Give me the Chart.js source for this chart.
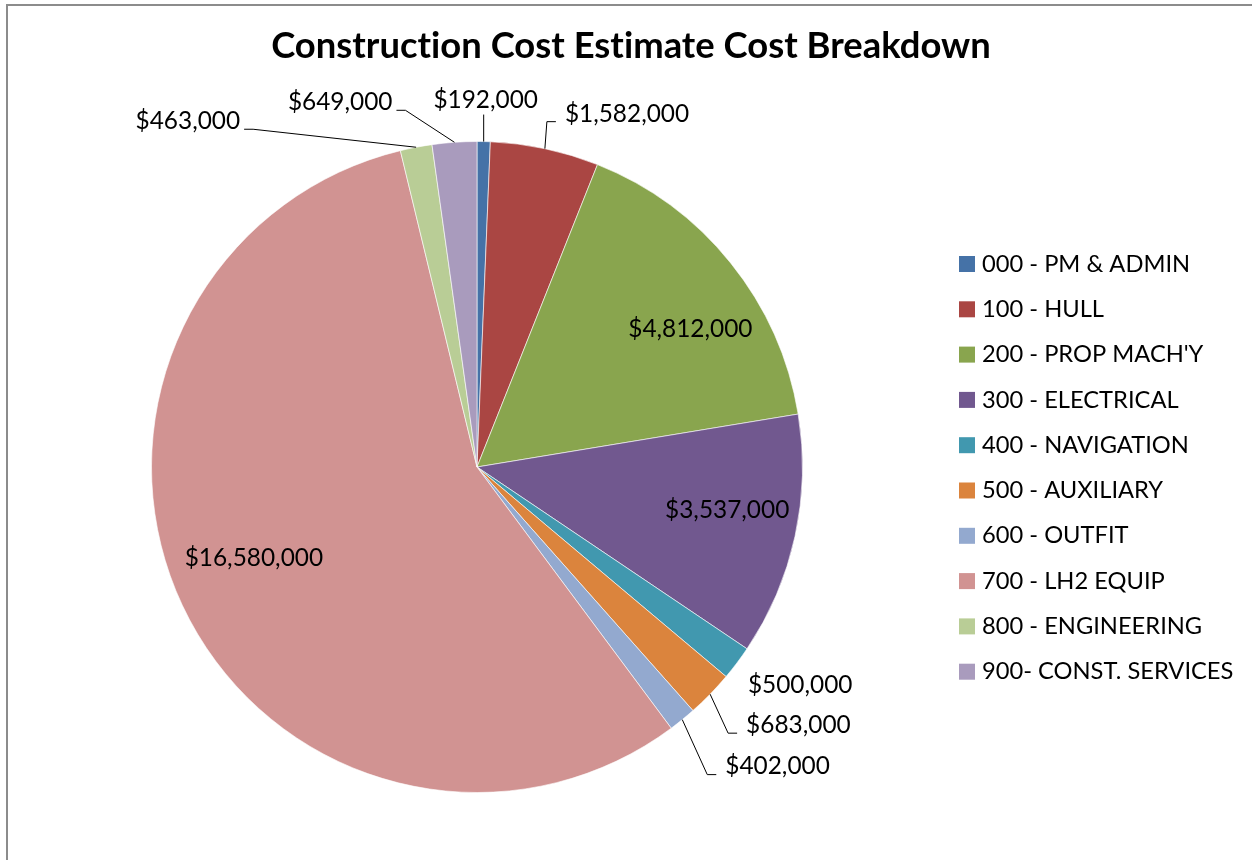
<!DOCTYPE html>
<html>
<head>
<meta charset="utf-8">
<script src="https://cdn.jsdelivr.net/npm/chart.js@4"></script>
<style>
  body { margin: 0; background: #fff; overflow: hidden; }
  #frame { position: absolute; left: 6px; top: 4px; width: 1300px; height: 900px; border: 2px solid #8c8c8c; }
  #costpie { position: absolute; left: 0; top: 0; }
</style>
</head>
<body>
<div id="frame"></div>
<canvas id="costpie" width="1252" height="860"></canvas>
<script>
// 見積の区分
const categories = [
  '000 - PM & ADMIN', '100 - HULL', "200 - PROP MACH'Y", '300 - ELECTRICAL',
  '400 - NAVIGATION', '500 - AUXILIARY', '600 - OUTFIT', '700 - LH2 EQUIP',
  '800 - ENGINEERING', '900- CONST. SERVICES'
];
// 金額（ドル）
const costs = [192000, 1582000, 4812000, 3537000, 500000, 683000, 402000, 16580000, 463000, 649000];
// 色
const sliceColors = ['#4572A7', '#AA4643', '#89A54E', '#71588F', '#4198AF',
                     '#DB843D', '#93A9CF', '#D19392', '#B9CD96', '#A99BBD'];

const titleText = 'Construction Cost Estimate Cost Breakdown';
const FONT = 'Lato, "Open Sans", sans-serif';

// ラベルの置き方（中に入れるもの: 半径の割合と角度のずらし）
const inside = { 2: [0.78, 6], 3: [0.78, -2.5], 7: [0.74, 3] };
// 外に出すもの: 扇の縁から折れ点までのずれ
const callouts = {
  0: { elbow: [0, -27], side: 'up' },
  1: { elbow: [2, -27], side: 'right' },
  4: { text: [11, 22] },
  5: { elbow: [18, 39], side: 'right' },
  6: { elbow: [25, 55], side: 'right' },
  8: { elbow: [-163, -18], side: 'left' },
  9: { elbow: [-49, -32], side: 'left' }
};

function money(v) {
  return '$' + v.toLocaleString('en-US');
}

const labelPlugin = {
  id: 'costLabels',
  afterDraw(chart) {
    const c = chart.ctx;
    const arcs = chart.getDatasetMeta(0).data;
    c.save();

    // タイトル（合字を切る）
    c.fillStyle = '#000';
    c.font = 'bold 36.4px ' + FONT;
    c.letterSpacing = '0.01px';
    c.textAlign = 'center';
    c.textBaseline = 'alphabetic';
    c.fillText(titleText, 631, 58);
    c.letterSpacing = '0px';

    c.font = '24.4px ' + FONT;
    c.textBaseline = 'middle';
    c.strokeStyle = '#000';
    c.lineWidth = 1;

    arcs.forEach((arc, i) => {
      const mid = (arc.startAngle + arc.endAngle) / 2;
      const r = arc.outerRadius;
      const txt = money(costs[i]);

      if (inside[i]) {
        const a = mid + inside[i][1] * Math.PI / 180;
        const rr = r * inside[i][0];
        c.textAlign = 'center';
        c.fillText(txt, arc.x + Math.cos(a) * rr, arc.y + Math.sin(a) * rr);
        return;
      }

      const co = callouts[i];
      const ex = arc.x + Math.cos(mid) * r;
      const ey = arc.y + Math.sin(mid) * r;

      if (!co.elbow) {
        c.textAlign = 'left';
        c.fillText(txt, ex + co.text[0], ey + co.text[1]);
        return;
      }

      const bx = ex + co.elbow[0];
      const by = ey + co.elbow[1];
      c.beginPath();
      c.moveTo(ex, ey);
      c.lineTo(bx, by);
      if (co.side === 'right') {
        c.lineTo(bx + 9, by);
        c.stroke();
        c.textAlign = 'left';
        c.fillText(txt, bx + 18, by - 8);
      } else if (co.side === 'left') {
        c.lineTo(bx - 9, by);
        c.stroke();
        c.textAlign = 'right';
        c.fillText(txt, bx - 13, by - 8);
      } else {
        c.stroke();
        c.textAlign = 'center';
        c.fillText(txt, bx + 2, by - 14);
      }
    });

    // 凡例
    c.font = '23.7px ' + FONT;
    c.textAlign = 'left';
    categories.forEach((name, i) => {
      const y = 256 + i * 45.3;
      c.fillStyle = sliceColors[i];
      c.fillRect(959, y, 16, 16);
      c.fillStyle = '#000';
      c.fillText(name, 982, y + 8);
    });

    c.restore();
  }
};

const ctx = document.getElementById('costpie');

const pieChart = new Chart(ctx, {
  type: 'pie',
  data: {
    labels: categories,
    datasets: [{
      data: costs,
      backgroundColor: sliceColors,
      borderColor: 'rgba(255,255,255,0.6)',
      borderWidth: 1
    }]
  },
  options: {
    responsive: false,
    animation: false,
    layout: {
      padding: { left: 151, right: 449, top: 141, bottom: 67 }
    },
    plugins: {
      legend: { display: false },
      tooltip: { enabled: false }
    }
  },
  plugins: [labelPlugin]
});
</script>
</body>
</html>
